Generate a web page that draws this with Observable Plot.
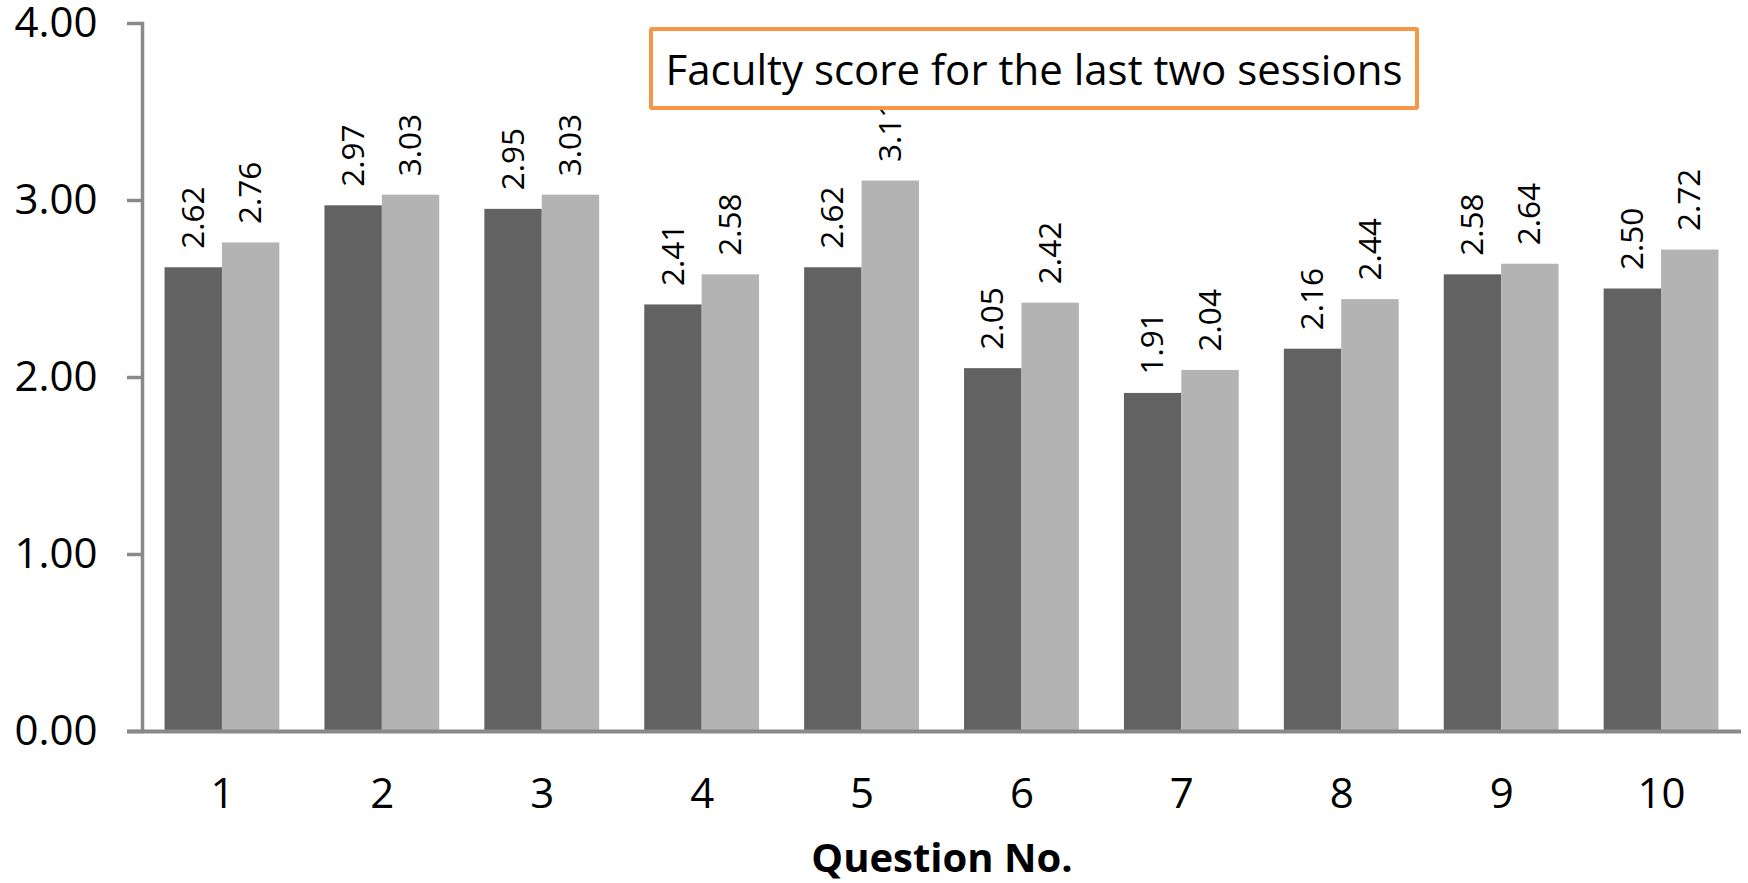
<!DOCTYPE html>
<html><head><meta charset="utf-8">
<script src="https://cdn.jsdelivr.net/npm/d3@7"></script>
<script src="https://cdn.jsdelivr.net/npm/@observablehq/plot@0.6"></script>
<style>
body{margin:0;background:#fff;font-family:"Open Sans",sans-serif;}
#wrap{position:relative;width:1748px;height:883px;}
#title{position:absolute;z-index:2;left:649px;top:27px;width:770px;height:83px;box-sizing:border-box;border:4px solid #F79646;border-radius:3px;background:#fff;display:flex;align-items:center;justify-content:center;font-size:42px;color:#000;white-space:nowrap;font-family:"Open Sans",sans-serif;}
</style></head><body>
<div id="wrap"><div id="title"></div></div>
<script>
const questions = ["1","2","3","4","5","6","7","8","9","10"];
const session1 = [2.62, 2.97, 2.95, 2.41, 2.62, 2.05, 1.91, 2.16, 2.58, 2.50];
const session2 = [2.76, 3.03, 3.03, 2.58, 3.11, 2.42, 2.04, 2.44, 2.64, 2.72];
const yTicks = [0, 1, 2, 3, 4];
const xTitle = "Question No.";
const chartTitle = "Faculty score for the last two sessions";

const W = 1748, H = 883, mL = 142, mR = 7, mT = 23, mB = 152, padIn = 0.282;
const step = (W - mL - mR) / questions.length;
const bw = step * (1 - padIn);
const rows = questions.map((q, i) => ({q, a: session1[i], b: session2[i]}));
const axisGray = "#898989";

const chart = Plot.plot({
  width: W, height: H,
  marginLeft: mL, marginRight: mR, marginTop: mT, marginBottom: mB,
  style: {fontFamily: "Open Sans", background: "#fff", color: "#000", overflow: "visible"},
  x: {domain: questions, type: "band", paddingInner: padIn, paddingOuter: padIn / 2, round: false, label: null},
  y: {domain: [0, 4], label: null},
  marks: [
    Plot.barY(rows, {x: "q", y: "a", fill: "#626262", insetRight: bw / 2}),
    Plot.barY(rows, {x: "q", y: "b", fill: "#B3B3B3", insetLeft: bw / 2}),
    Plot.text(rows, {x: "q", y: "a", text: d => d.a.toFixed(2), rotate: -90, textAnchor: "start", dx: -bw / 4, dy: -19, fontSize: 31.5, fill: "#000"}),
    Plot.text(rows, {x: "q", y: "b", text: d => d.b.toFixed(2), rotate: -90, textAnchor: "start", dx: bw / 4, dy: -19, fontSize: 31.5, fill: "#000"}),
    Plot.axisY({ticks: yTicks, tickFormat: d => d.toFixed(2), tickSize: 15, tickPadding: 30, strokeWidth: 3.5, stroke: axisGray, fill: "#000", fontSize: 42, label: null}),
    Plot.axisX({tickSize: 0, tickPadding: 47, fontSize: 42, fill: "#000", label: null}),
    Plot.frame({anchor: "left", stroke: axisGray, strokeWidth: 3.5}),
    Plot.ruleY([0], {stroke: axisGray, strokeWidth: 4, insetLeft: -15}),
    Plot.text([xTitle], {frameAnchor: "bottom", lineAnchor: "middle", dy: 128, fontSize: 40, fontWeight: "bold", fill: "#000"})
  ]
});
const wrap = document.getElementById("wrap");
const titleEl = document.getElementById("title");
titleEl.textContent = chartTitle;
wrap.insertBefore(chart, titleEl);
</script>
</body></html>
